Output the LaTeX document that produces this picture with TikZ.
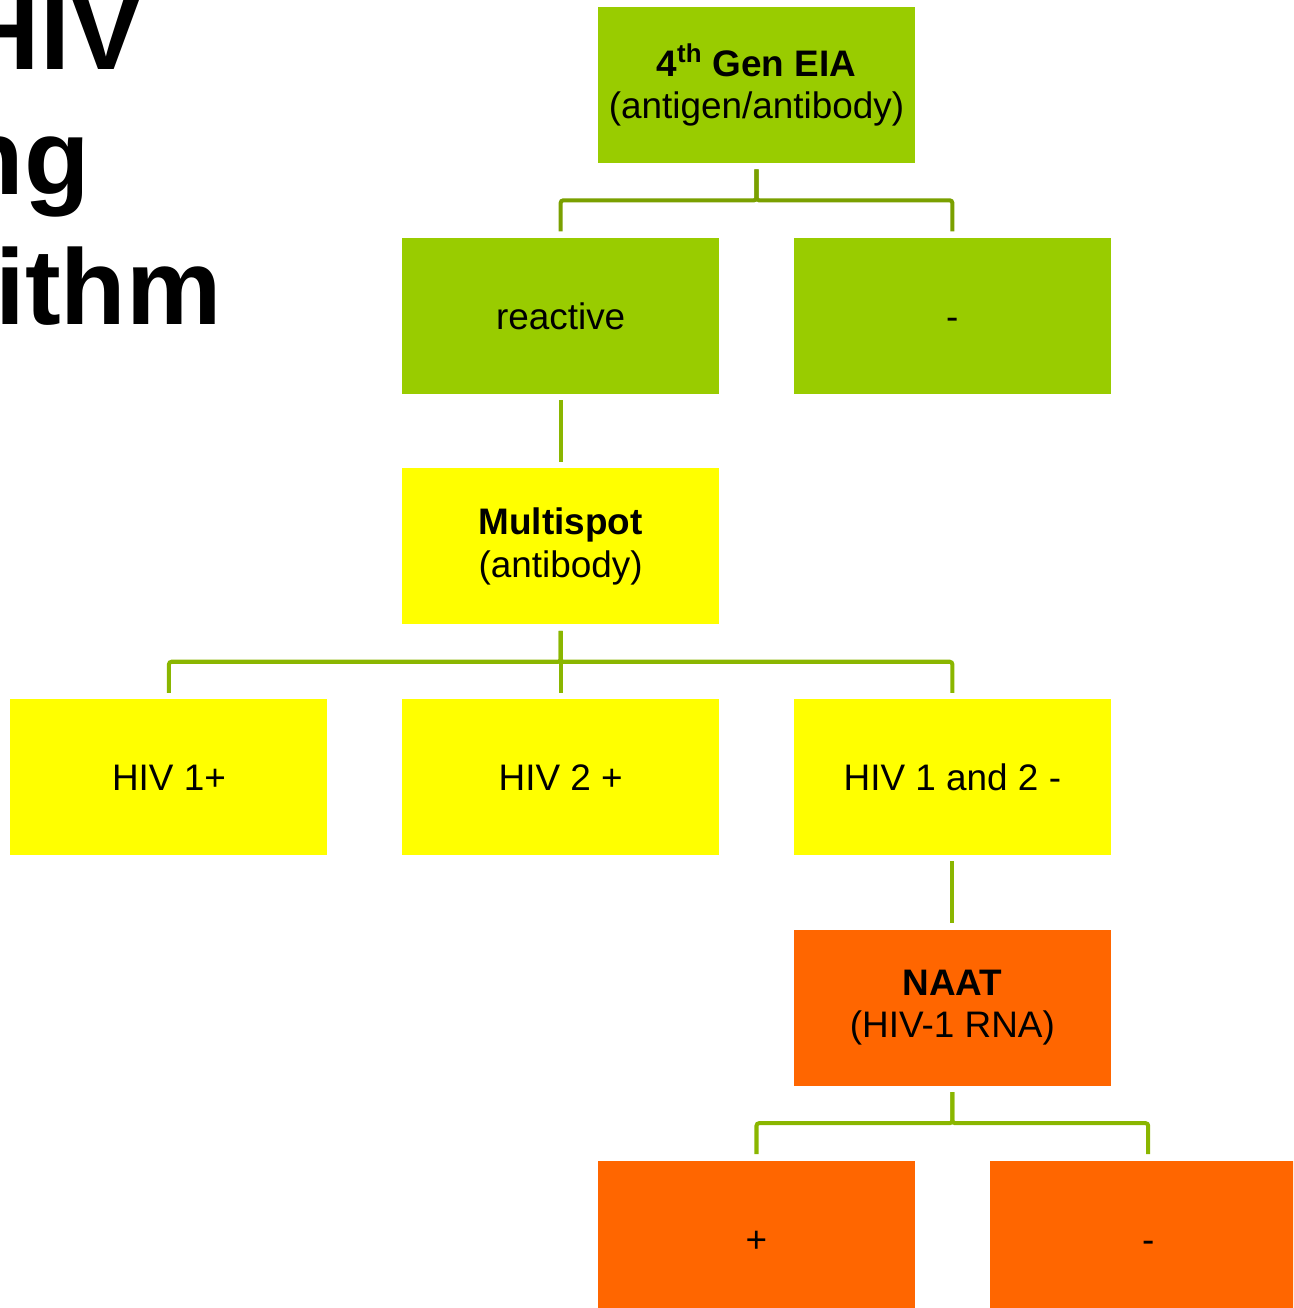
\documentclass[tikz,border=0pt]{standalone}
\usepackage{fontspec}
\setmainfont{Liberation Sans}
\usepackage{tikz}
\usetikzlibrary{positioning}

\definecolor{eiagreen}{RGB}{153,204,0}
\definecolor{spotyellow}{RGB}{255,255,0}
\definecolor{naatorange}{RGB}{255,102,0}
\definecolor{linkgreen}{RGB}{138,182,0}
\definecolor{linkdark}{RGB}{122,160,0}

\begin{document}
\begin{tikzpicture}[
        node distance=1.48cm,
        testbox/.style={
            rectangle, draw=none, minimum width=6.34cm, minimum height=3.12cm,
            align=center, inner sep=2pt, font=\fontsize{21}{24}\selectfont
        },
        oneline/.style={text height=15.8pt, text depth=0pt},
        greenbox/.style={testbox, fill=eiagreen},
        yellowbox/.style={testbox, fill=spotyellow},
        orangebox/.style={testbox, fill=naatorange},
        link/.style={line width=2.3pt, draw=linkgreen, rounded corners=1.5pt},
        headline/.style={anchor=base east, inner sep=0pt, font=\fontsize{61}{73}\selectfont\bfseries}
    ]
        \useasboundingbox (0,0) rectangle (25.86,-26.16);
        \clip (0,0) rectangle (25.86,-26.16);

        % Title (cut at the left edge)
        \node[headline] (title1) at (2.84,-1.40) {HIV};
        \node[headline] (title2) at (1.80,-3.90) {ng};
        \node[headline] (title3) at (4.44,-6.50) {ithm};

        % First test
        \node[greenbox] (eia) at (15.13,-1.70) {\textbf{4\textsuperscript{th} Gen EIA}\\(antigen/antibody)};
        \node[greenbox, oneline, below left=1.48cm and 0.74cm of eia.south] (react) {reactive};
        \node[greenbox, oneline, below right=1.48cm and 0.74cm of eia.south] (nonreact) {-};

        % Second test
        \node[yellowbox, below=of react] (multi) {\textbf{Multispot}\\(antibody)};
        \node[yellowbox, oneline, below=of multi] (hivtwo) {HIV 2 +};
        \node[yellowbox, oneline, left=of hivtwo] (hivone) {HIV 1+};
        \node[yellowbox, oneline, right=of hivtwo] (hivneg) {HIV 1 and 2 -};

        % Third test
        \node[orangebox, below=of hivneg] (naat) {\textbf{NAAT}\\(HIV-1 RNA)};
        \node[orangebox, oneline, below left=1.48cm and 0.74cm of naat.south] (rnapos) {+};
        \node[orangebox, oneline, below right=1.48cm and 0.74cm of naat.south] (rnaneg) {-};

        % Connectors
        \draw[link, draw=linkdark] ([yshift=-0.12cm]eia.south) -- ++(0,-0.62) -| ([yshift=0.12cm]react.north);
        \draw[link, draw=linkdark] ([yshift=-0.12cm]eia.south) -- ++(0,-0.62) -| ([yshift=0.12cm]nonreact.north);
        \draw[link] ([yshift=-0.12cm]react.south) -- ([yshift=0.12cm]multi.north);

        \draw[link] ([yshift=-0.12cm]multi.south) -- ([yshift=0.12cm]hivtwo.north);
        \draw[link] ([yshift=-0.12cm]multi.south) -- ++(0,-0.62) -| ([yshift=0.12cm]hivone.north);
        \draw[link] ([yshift=-0.12cm]multi.south) -- ++(0,-0.62) -| ([yshift=0.12cm]hivneg.north);
        \draw[link] ([yshift=-0.12cm]hivneg.south) -- ([yshift=0.12cm]naat.north);

        \draw[link] ([yshift=-0.12cm]naat.south) -- ++(0,-0.62) -| ([yshift=0.12cm]rnapos.north);
        \draw[link] ([yshift=-0.12cm]naat.south) -- ++(0,-0.62) -| ([yshift=0.12cm]rnaneg.north);

    \end{tikzpicture}
\end{document}
